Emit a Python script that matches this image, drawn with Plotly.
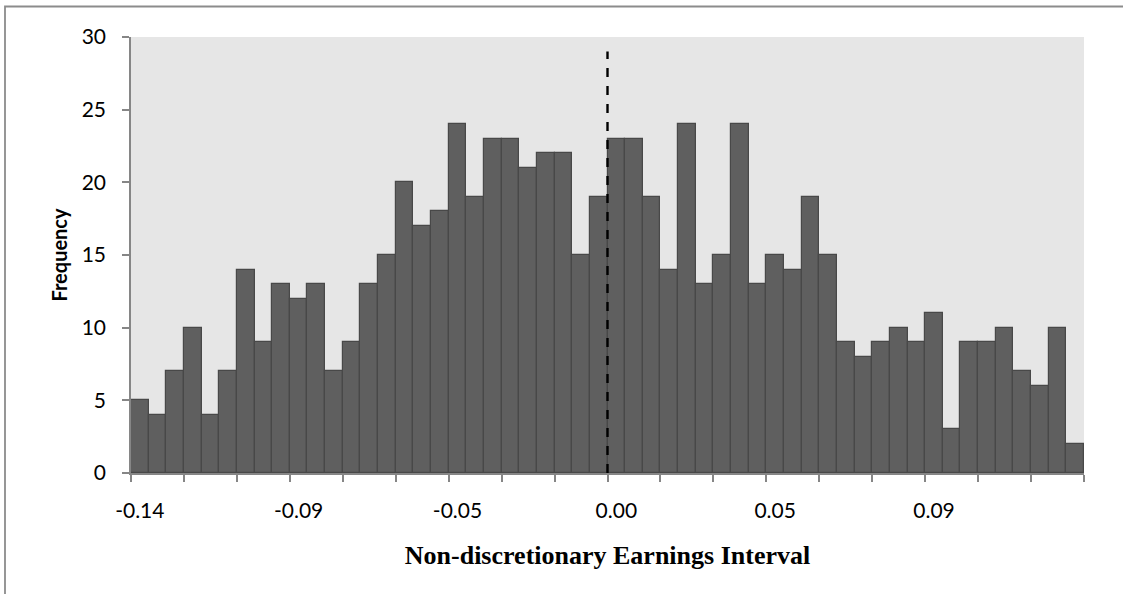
import plotly.graph_objects as go

# Frequency per interval (54 bins)
frequency = [5, 4, 7, 10, 4, 7, 14, 9, 13, 12, 13, 7, 9, 13, 15, 20, 17, 18,
             24, 19, 23, 23, 21, 22, 22, 15, 19, 23, 23, 19, 14, 24, 13, 15, 24, 13,
             15, 14, 19, 15, 9, 8, 9, 10, 9, 11, 3, 9, 9, 10, 7, 6, 10, 2]
bin_index = list(range(len(frequency)))

# Tick labels (shown every 9th bin)
tick_labels = ["-0.14", "-0.09", "-0.05", "0.00", "0.05", "0.09"]
tick_bins = [0, 9, 18, 27, 36, 45]
zero_bin = 27          # dashed reference line at left edge of this bin
ref_line_top = 29

W, H = 1123, 594
L, R, T, B = 131, 39, 37, 121
pw, ph = W - L - R, H - T - B

fig = go.Figure()
fig.add_trace(go.Bar(
    x=bin_index, y=frequency, width=1,
    marker=dict(color="#5f5f5f", line=dict(color="#484848", width=1.2)),
    showlegend=False,
))

fig.add_shape(type="line", xref="x", yref="y",
              x0=zero_bin - 0.5, x1=zero_bin - 0.5, y0=0, y1=ref_line_top,
              line=dict(color="black", width=2.4, dash="dash"))

# Outer chart border (left & top visible)
fig.add_shape(type="rect", xref="paper", yref="paper",
              x0=(5 - L) / pw, x1=(W + 20 - L) / pw,
              y0=-(H + 20 - (H - B)) / ph, y1=1 + (T - 6.5) / ph,
              line=dict(color="#8c8c8c", width=1.8), layer="below")

n = len(frequency)
fig.update_layout(
    width=W, height=H,
    margin=dict(l=L, r=R, t=T, b=B),
    paper_bgcolor="white", plot_bgcolor="#e6e6e6",
    bargap=0,
    font=dict(family="Lato, Open Sans, sans-serif", color="black", size=21),
    xaxis=dict(
        range=[-0.5, n - 0.5],
        tickmode="array", tickvals=tick_bins, ticktext=tick_labels,
        ticks="", ticklen=0, ticklabelstandoff=18,
        showline=True, linecolor="#868686", linewidth=1.5,
        showgrid=False, zeroline=False,
        tickfont=dict(size=21),
        minor=dict(tickmode="linear", tick0=-0.5, dtick=3, ticks="outside",
                   ticklen=7, tickcolor="#868686", tickwidth=1.5, showgrid=False),
        title=dict(text="<b>Non-discretionary Earnings Interval</b>",
                   font=dict(family="Liberation Serif, Times New Roman, serif", size=26),
                   standoff=25),
    ),
    yaxis=dict(
        range=[0, 30], tickmode="linear", tick0=0, dtick=5,
        ticks="outside", ticklen=7, tickcolor="#868686", tickwidth=1.5,
        ticklabelstandoff=12,
        showline=True, linecolor="#868686", linewidth=1.5,
        showgrid=False, zeroline=False,
        tickfont=dict(size=21),
        title=dict(text="<b>Frequency</b>", font=dict(size=20), standoff=9),
    ),
)

fig.write_html("out.html", config={"displayModeBar": False},
               post_script="document.body.style.margin='0';")
